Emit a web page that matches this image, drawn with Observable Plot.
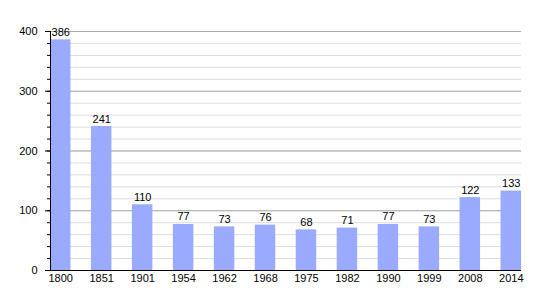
<!DOCTYPE html>
<html><head><meta charset="utf-8">
<script src="https://cdn.jsdelivr.net/npm/d3@7"></script>
<script src="https://cdn.jsdelivr.net/npm/@observablehq/plot@0.6"></script>
<style>body{margin:0;background:#fff}</style>
</head><body><div id="chart"></div>
<script>
const years = ["1800","1851","1901","1954","1962","1968","1975","1982","1990","1999","2008","2014"];
const population = [386,241,110,77,73,76,68,71,77,73,122,133];
const majorTicks = [0,100,200,300,400];
const minorTicks = d3.range(0,401,20);
const data = years.map((y,i)=>({year:y, value:population[i]}));
const chart = Plot.plot({
  width: 550, height: 300,
  marginLeft: 50, marginRight: 29, marginTop: 31, marginBottom: 30,
  style: {fontFamily: "Liberation Sans, Arial, sans-serif", fontSize: "11px", background: "#fff"},
  x: {domain: years, paddingInner: 0.5, paddingOuter: 0, round: false, label: null},
  y: {domain: [0,400], label: null},
  marks: [
    Plot.gridY(minorTicks, {stroke: "#ddd", strokeOpacity: 1}),
    Plot.gridY(majorTicks.slice(1), {stroke: "#aaa", strokeOpacity: 1}),
    Plot.barY(data, {x: "year", y: "value", fill: "#99aaff"}),
    Plot.text(data, {x: "year", y: "value", text: d => String(d.value), lineAnchor: "bottom", dy: -4, fontSize: 11, fill: "#000"}),
    Plot.axisY(minorTicks, {tickSize: 3, text: null, stroke: "#000"}),
    Plot.axisY(majorTicks, {tickSize: 5, tickPadding: 8, fontSize: 11, fill: "#000"}),
    Plot.frame({anchor: "left", stroke: "#000"}),
    Plot.ruleY([0], {stroke: "#000"}),
    Plot.axisX({tickSize: 0, tickPadding: 4, fontSize: 11, fill: "#000"})
  ]
});
document.getElementById("chart").append(chart);
</script></body></html>
